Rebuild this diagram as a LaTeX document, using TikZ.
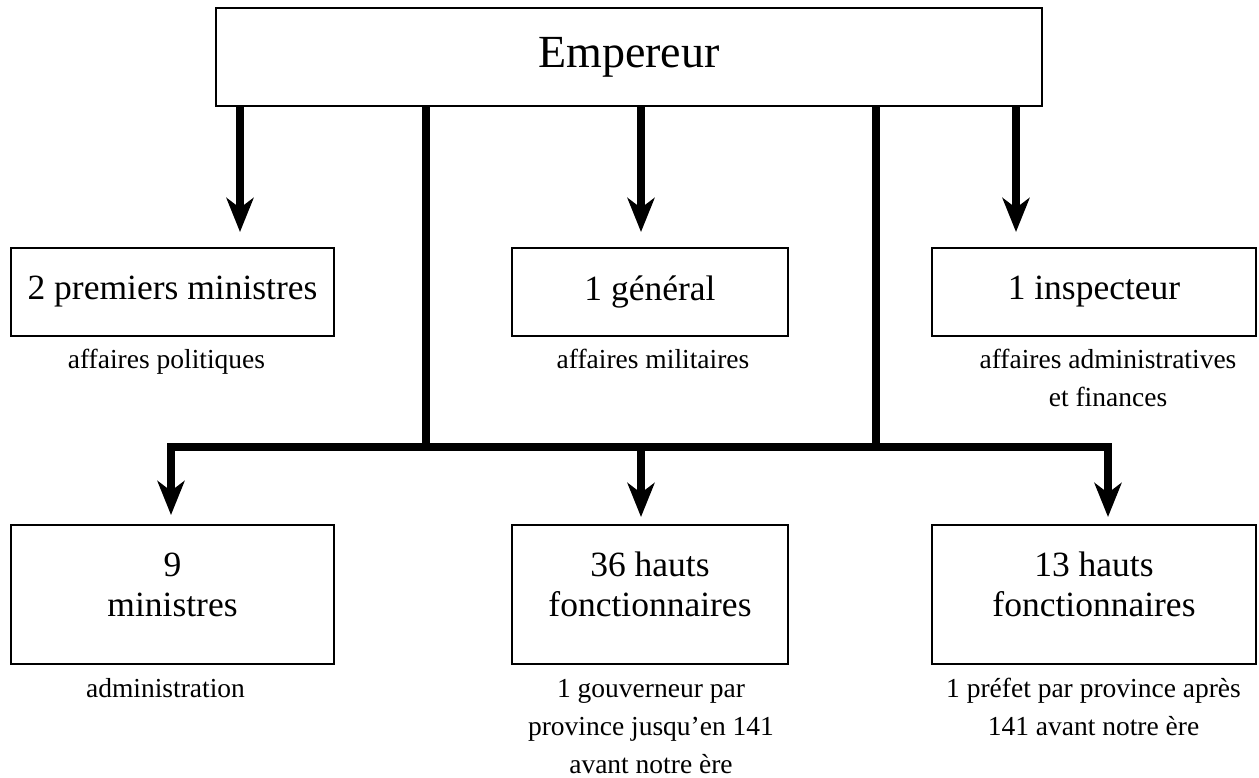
\documentclass[tikz,border=0pt]{standalone}
\usepackage{fontspec}
\setmainfont{Liberation Serif}
\usetikzlibrary{arrows.meta}
\begin{document}
\begin{tikzpicture}[x=1pt,y=-1pt,
  box/.style={draw=black, line width=2.5pt, rectangle, inner sep=0pt, font=\fontsize{35.5}{40}\selectfont},
  toprow/.style={box, minimum height=88pt},
  botrow/.style={box, minimum height=139pt},
  conn/.style={line width=8pt, line join=miter},
  arr/.style={conn, -{Stealth[length=34pt,width=27pt,inset=10pt]}},
  lbl/.style={font=\fontsize{27.5}{38}\selectfont, align=center, inner sep=0pt, anchor=north},
  btxt/.style={font=\fontsize{35.5}{40}\selectfont, align=center, inner sep=0pt, anchor=north}
]
\fill[white] (0,0) rectangle (1259,778);
\useasboundingbox (0,0) rectangle (1259,778);

% boxes
\node[box, minimum width=826pt, minimum height=98pt, font=\fontsize{46}{52}\selectfont] (emp) at (629,57) {Empereur};
\node[toprow, minimum width=323pt] (pm) at (172.5,292) {2 premiers ministres};
\node[toprow, minimum width=276pt] (gen) at (650,292) {1 général};
\node[toprow, minimum width=324pt] (insp) at (1094,292) {1 inspecteur};
\node[botrow, minimum width=323pt] (min) at (172.5,594.5) {};
\node[botrow, minimum width=276pt] (hf36) at (650,594.5) {};
\node[botrow, minimum width=324pt] (hf13) at (1094,594.5) {};

% texts in lower boxes
\node[btxt] (mint) at (172.5,548) {\strut 9\\ministres};
\node[btxt] (hf36t) at (650,548) {\strut 36 hauts\\fonctionnaires};
\node[btxt] (hf13t) at (1094,548) {\strut 13 hauts\\fonctionnaires};

% labels under boxes
\node[lbl] (pml) at (166.5,342) {\strut affaires politiques};
\node[lbl] (genl) at (653,342) {\strut affaires militaires};
\node[lbl] (inspl) at (1108,342) {\strut affaires administratives\\et finances};
\node[lbl] (minl) at (165.5,671) {\strut administration};
\node[lbl] (hf36l) at (651,671) {\strut 1 gouverneur par\\province jusqu'en 141\\avant notre ère};
\node[lbl] (hf13l) at (1093.5,671) {\strut 1 préfet par province après\\141 avant notre ère};

% arrows from the emperor to the top row
\coordinate (t1) at (240,232);
\coordinate (t2) at (641,232);
\coordinate (t3) at (1016,232);
\draw[arr] (emp.south -| t1) -- (t1);
\draw[arr] (emp.south -| t2) -- (t2);
\draw[arr] (emp.south -| t3) -- (t3);

% vertical lines down to the bar
\coordinate (j1) at (426,447);
\coordinate (j2) at (876,447);
\draw[conn] (emp.south -| j1) -- (j1);
\draw[conn] (emp.south -| j2) -- (j2);

% bar and arrows to the bottom row
\coordinate (bl) at (171,447);
\coordinate (bm) at (641,447);
\coordinate (br) at (1108,447);
\coordinate (b1) at (171,515);
\coordinate (b2) at (641,517);
\coordinate (b3) at (1108,517);
\draw[arr] (bm) -- (bl) -- (b1);
\draw[arr] (bm) -- (br) -- (b3);
\draw[arr] (bm) -- (b2);
\end{tikzpicture}
\end{document}
